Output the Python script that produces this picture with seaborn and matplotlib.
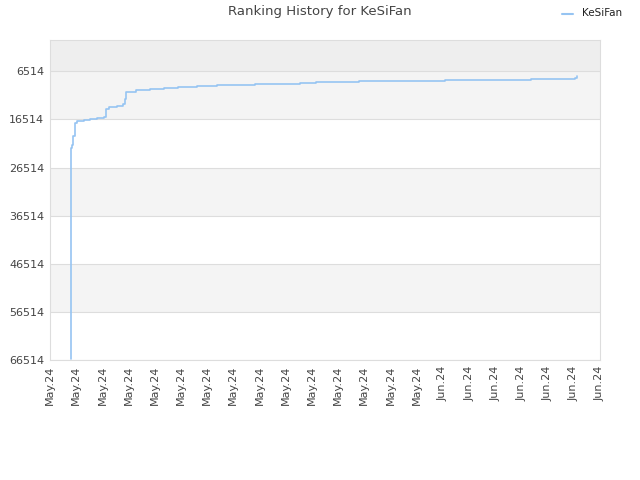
import matplotlib
matplotlib.use("Agg")
import matplotlib.pyplot as plt
import seaborn as sns
import pandas as pd

sns.set_style("white")
plt.rcParams['font.family'] = ['DejaVu Sans']

tick_labels = ["May.24"] * 15 + ["Jun.24"] * 7
y_ticks = [6514, 16514, 26514, 36514, 46514, 56514, 66514]

# x in tick-index units, rank values
x_vals = [0.79, 0.80, 0.84, 0.88, 0.94, 1.03, 1.30, 1.53, 1.80, 2.06, 2.14, 2.25,
          2.56, 2.79, 2.86, 2.90, 3.28, 3.82, 4.35, 4.89, 5.61, 6.38, 7.83, 9.55,
          10.16, 11.80, 15.08, 18.37, 19.97, 20.05, 20.13]
ranks = [66300, 22550, 21900, 20050, 17350, 16930, 16720, 16510, 16300, 16100, 14430,
         14010, 13800, 13390, 12350, 10890, 10470, 10260, 10060, 9850, 9640, 9430,
         9220, 9010, 8800, 8600, 8390, 8180, 8080, 7970, 7550]

df = pd.DataFrame({"x": x_vals, "rank": ranks, "name": "KeSiFan"})

fig = plt.figure(figsize=(6.4, 4.8), dpi=100)
ax = fig.add_axes([50/640, 1-360/480, 550/640, 320/480])

ax.axhspan(0, 6514, color="#eeeeee", zorder=0, lw=0)
for lo, hi in [(6514, 16514), (26514, 36514), (46514, 56514)]:
    ax.axhspan(lo, hi, color="#f4f4f4", zorder=0, lw=0)

sns.lineplot(data=df, x="x", y="rank", hue="name", palette=["#96c4f2"], sort=False,
             drawstyle="steps-post", linewidth=1.2, ax=ax, legend=False)

ax.set_xlim(0, 21)
ax.set_ylim(66514, 0)
ax.set_yticks(y_ticks)
ax.set_yticklabels([str(v) for v in y_ticks])
ax.set_xticks(range(22))
ax.set_xticklabels(tick_labels, rotation=90)
ax.yaxis.grid(True, color="#dddddd", lw=0.8)
ax.set_axisbelow(True)
ax.tick_params(axis="both", length=0, labelsize=8, labelcolor="#444444", pad=4)
for s in ax.spines.values():
    s.set_color("#dddddd")
ax.set_xlabel("")
ax.set_ylabel("")

fig.text(0.5, 1-12/480, "Ranking History for KeSiFan", ha="center", va="center",
         fontsize=9.5, color="#444444")
fig.lines.append(plt.Line2D([562/640, 573/640], [1-14/480, 1-14/480], color="#96c4f2",
                            lw=1.5, transform=fig.transFigure))
fig.text(582/640, 1-13/480, "KeSiFan", ha="left", va="center", fontsize=7.5, color="#222222")

fig.savefig("out.png", dpi=100)
